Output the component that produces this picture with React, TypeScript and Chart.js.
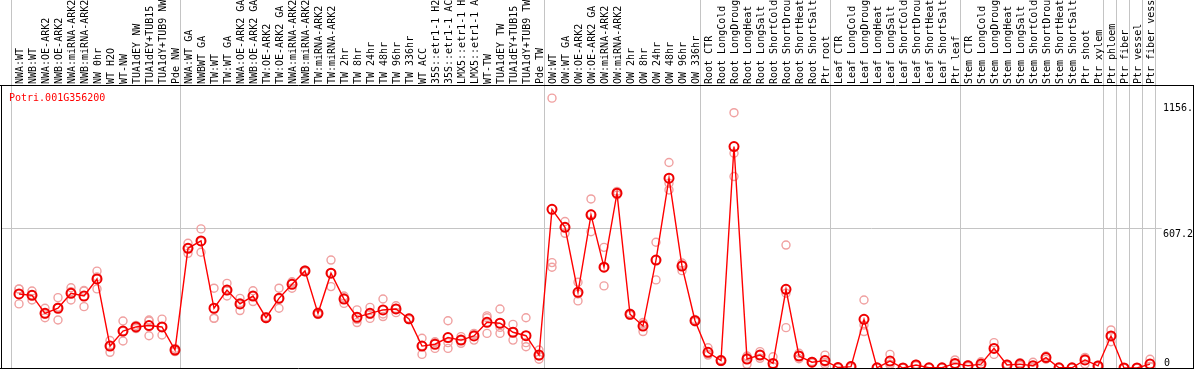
import React, { useEffect, useRef } from "react";
import { Chart, registerables } from "chart.js";

Chart.register(...registerables);

const title = "Potri.001G356200";

const categories = [
  "NWA:WT", "NWB:WT", "NWA:OE-ARK2", "NWB:OE-ARK2", "NWA:miRNA-ARK2", "NWB:miRNA-ARK2",
  "NW 0hr", "WT H2O", "WT-NW", "TUA1dEY NW", "TUA1dEY+TUB15 NW", "TUA1dY+TUB9 NW", "Pde NW",
  "NWA:WT GA", "NWBWT GA", "TW:WT", "TW:WT GA", "NWA:OE-ARK2 GA", "NWB:OE-ARK2 GA",
  "TW:OE-ARK2", "TW:OE-ARK2 GA", "NWA:miRNA-ARK2 GA", "NWB:miRNA-ARK2 GA", "TW:miRNA-ARK2",
  "TW:miRNA-ARK2 GA", "TW 2hr", "TW 8hr", "TW 24hr", "TW 48hr", "TW 96hr", "TW 336hr",
  "WT ACC", "35S::etr1-1 H2O", "35S::etr1-1 ACC", "LMX5::etr1-1 H2O", "LMX5::etr1-1 ACC",
  "WT-TW", "TUA1dEY TW", "TUA1dEY+TUB15 TW", "TUA1dY+TUB9 TW", "Pde TW",
  "OW:WT", "OW:WT GA", "OW:OE-ARK2", "OW:OE-ARK2 GA", "OW:miRNA-ARK2", "OW:miRNA-ARK2 GA",
  "OW 2hr", "OW 8hr", "OW 24hr", "OW 48hr", "OW 96hr", "OW 336hr",
  "Root CTR", "Root LongCold", "Root LongDrought", "Root LongHeat", "Root LongSalt",
  "Root ShortCold", "Root ShortDrought", "Root ShortHeat", "Root ShortSalt", "Ptr root",
  "Leaf CTR", "Leaf LongCold", "Leaf LongDrought", "Leaf LongHeat", "Leaf LongSalt",
  "Leaf ShortCold", "Leaf ShortDrought", "Leaf ShortHeat", "Leaf ShortSalt", "Ptr leaf",
  "Stem CTR", "Stem LongCold", "Stem LongDrought", "Stem LongHeat", "Stem LongSalt",
  "Stem ShortCold", "Stem ShortDrought", "Stem ShortHeat", "Stem ShortSalt", "Ptr shoot",
  "Ptr xylem", "Ptr phloem", "Ptr fiber", "Ptr vessel", "Ptr fiber vessel",
];

const meanValues = [
  321, 315, 237, 259, 324, 312, 386, 95, 160, 178, 184, 178, 78,
  519, 551, 259, 338, 278, 312, 218, 302, 363, 421, 237, 411, 299, 220, 237, 252, 256, 213,
  95, 103, 132, 121, 139, 198, 194, 155, 140, 56,
  688, 610, 328, 664, 437, 758, 233, 182, 468, 823, 442, 205,
  68, 32, 960, 39, 56, 20, 341, 52, 25, 32,
  2, 6, 211, 1, 30, 0, 13, 1, 1, 20,
  10, 17, 85, 13, 17, 10, 45, 1, 1, 35, 9,
  139, 0, 0, 17,
];

const rep1 = [
  343, 334, 259, 305, 348, 336, 420, 119, 204, 185, 208, 212, 85,
  541, 603, 346, 367, 302, 335, 222, 346, 374, 425, 242, 468, 312, 252, 263, 299, 270, 216,
  129, 114, 205, 136, 150, 226, 256, 189, 218, 78,
  1170, 635, 372, 733, 523, 766, 238, 197, 545, 891, 455, 210,
  88, 36, 1107, 52, 71, 49, 533, 64, 28, 56,
  4, 10, 295, 2, 59, 0, 17, 2, 2, 35,
  14, 27, 110, 17, 23, 25, 52, 2, 2, 46, 12,
  165, 0, 0, 38,
];

const rep2 = [
  342, 316, 234, 264, 331, 334, 395, 98, 159, 178, 204, 179, 78,
  519, 548, 216, 335, 283, 313, 218, 301, 369, 421, 237, 412, 305, 211, 233, 234, 258, 213,
  97, 110, 110, 120, 145, 218, 176, 155, 110, 52,
  457, 611, 321, 668, 437, 758, 233, 190, 468, 801, 447, 205,
  60, 32, 931, 48, 56, 5, 324, 52, 25, 25,
  2, 6, 186, 1, 17, 0, 13, 1, 1, 17,
  10, 14, 86, 13, 17, 4, 45, 1, 1, 42, 9,
  139, 0, 0, 7,
];

const rep3 = [
  278, 295, 218, 208, 295, 266, 343, 68, 117, 171, 140, 143, 71,
  497, 502, 215, 312, 249, 288, 214, 259, 346, 417, 232, 353, 280, 197, 215, 223, 240, 210,
  59, 85, 85, 107, 121, 150, 150, 121, 92, 38,
  437, 584, 291, 591, 356, 750, 228, 158, 382, 772, 422, 200,
  56, 28, 830, 16, 42, 6, 175, 40, 22, 16,
  0, 2, 158, 0, 14, 0, 9, 0, 0, 8,
  6, 10, 59, 9, 11, 1, 38, 0, 0, 17, 6,
  114, 0, 0, 6,
];

// index of the first category of each group (last entry = one past the end)
const groupStartIndex = [0, 13, 41, 53, 63, 73, 84, 85, 86, 87, 88];
const yAxisTicks = [0, 607.2, 1156];
const yAxisTickLabels = ["0", "607.2", "1156."];
const yGridValues = [607.2];

const FONT = '10px "DejaVu Sans Mono", "Liberation Mono", monospace';

export default function App() {
  const ref = useRef<HTMLCanvasElement | null>(null);

  useEffect(() => {
    const canvas = ref.current;
    if (!canvas) return;

    const framePlugin = {
      id: "framePlugin",
      beforeDraw(chart: any) {
        const { ctx } = chart;
        ctx.save();
        ctx.fillStyle = "#ffffff";
        ctx.fillRect(0, 0, chart.width, chart.height);
        ctx.restore();
      },
      beforeDatasetsDraw(chart: any) {
        const { ctx, chartArea, scales } = chart;
        const xs = scales.x;
        const ys = scales.y;
        ctx.save();
        ctx.strokeStyle = "#c4c4c4";
        ctx.lineWidth = 1;
        // horizontal grid
        yGridValues.forEach((v) => {
          const py = Math.round(ys.getPixelForValue(v)) + 0.5;
          ctx.beginPath();
          ctx.moveTo(chartArea.left, py);
          ctx.lineTo(xs.getPixelForValue(87.9), py);
          ctx.stroke();
        });
        // vertical group separators (through label area)
        groupStartIndex.forEach((idx) => {
          const px = Math.round(xs.getPixelForValue(idx - 0.6)) + 0.5;
          ctx.beginPath();
          ctx.moveTo(px, 0);
          ctx.lineTo(px, chartArea.bottom);
          ctx.stroke();
        });
        ctx.restore();
      },
      afterDatasetsDraw(chart: any) {
        const { ctx, chartArea, scales } = chart;
        const xs = scales.x;
        const ys = scales.y;
        ctx.save();
        // frame
        ctx.strokeStyle = "#000000";
        ctx.lineWidth = 1;
        ctx.beginPath();
        ctx.moveTo(0, chartArea.top + 0.5);
        ctx.lineTo(chart.width, chartArea.top + 0.5);
        ctx.moveTo(0, chartArea.bottom + 0.5);
        ctx.lineTo(chart.width, chartArea.bottom + 0.5);
        ctx.moveTo(chartArea.left + 0.5, chartArea.top);
        ctx.lineTo(chartArea.left + 0.5, chartArea.bottom);
        ctx.moveTo(chartArea.right + 0.5, chartArea.top);
        ctx.lineTo(chartArea.right + 0.5, chartArea.bottom);
        ctx.stroke();

        // category labels (rotated)
        ctx.font = FONT;
        ctx.fillStyle = "#000000";
        ctx.textAlign = "left";
        ctx.textBaseline = "alphabetic";
        categories.forEach((label, i) => {
          const px = xs.getPixelForValue(i);
          ctx.save();
          ctx.translate(Math.round(px) + 3.5, chartArea.top - 1);
          ctx.rotate(-Math.PI / 2);
          ctx.fillText(label, 0, 0);
          ctx.restore();
        });

        // title
        ctx.fillStyle = "#ff0000";
        ctx.fillText(title, chartArea.left + 8, chartArea.top + 16);

        // y tick labels on the right
        ctx.fillStyle = "#000000";
        yAxisTicks.forEach((v, i) => {
          const py = ys.getPixelForValue(v);
          const tx = Math.round(xs.getPixelForValue(87.9)) + 1;
          if (v === 0) {
            ctx.fillText(yAxisTickLabels[i], tx + 1, py - 2);
          } else {
            ctx.fillText(yAxisTickLabels[i], tx, py + 9.5);
          }
        });
        ctx.restore();
      },
    };

    const toPoints = (arr: number[]) => arr.map((v, i) => ({ x: i, y: v }));

    const chart = new Chart(canvas, {
      type: "line",
      data: {
        datasets: [
          {
            label: "mean",
            data: toPoints(meanValues),
            borderColor: "#ff0000",
            borderWidth: 1.4,
            pointStyle: "circle",
            pointRadius: 4.5,
            pointBorderWidth: 2,
            pointBorderColor: "#ee0000",
            pointBackgroundColor: "rgba(255,255,255,0)",
            tension: 0,
            order: 0,
          },
          ...[rep1, rep2, rep3].map((r, k) => ({
            label: "rep" + (k + 1),
            data: toPoints(r),
            showLine: false,
            borderColor: "#f0a0a0",
            pointStyle: "circle",
            pointRadius: 4,
            pointBorderWidth: 1.4,
            pointBorderColor: "#f0a0a0",
            pointBackgroundColor: "rgba(255,255,255,0)",
            order: 1,
          })),
        ],
      },
      options: {
        animation: false,
        responsive: false,
        devicePixelRatio: 1,
        events: [],
        layout: { autoPadding: false, padding: { left: 1, top: 85, right: 1, bottom: 2 } },
        plugins: {
          legend: { display: false },
          tooltip: { enabled: false },
          title: { display: false },
        },
        scales: {
          x: {
            type: "linear",
            display: false,
            min: -18 / 13,
            max: -18 / 13 + 1192 / 13,
          },
          y: {
            type: "linear",
            display: false,
            min: 0,
            max: 1227,
          },
        },
      },
      plugins: [framePlugin],
    } as any);

    return () => {
      chart.destroy();
    };
  }, []);

  return (
    <div style={{ position: "fixed", left: 0, top: 0, width: 1194, height: 370, background: "#fff" }}>
      <canvas ref={ref} width={1194} height={370} style={{ display: "block", width: 1194, height: 370 }} />
    </div>
  );
}
